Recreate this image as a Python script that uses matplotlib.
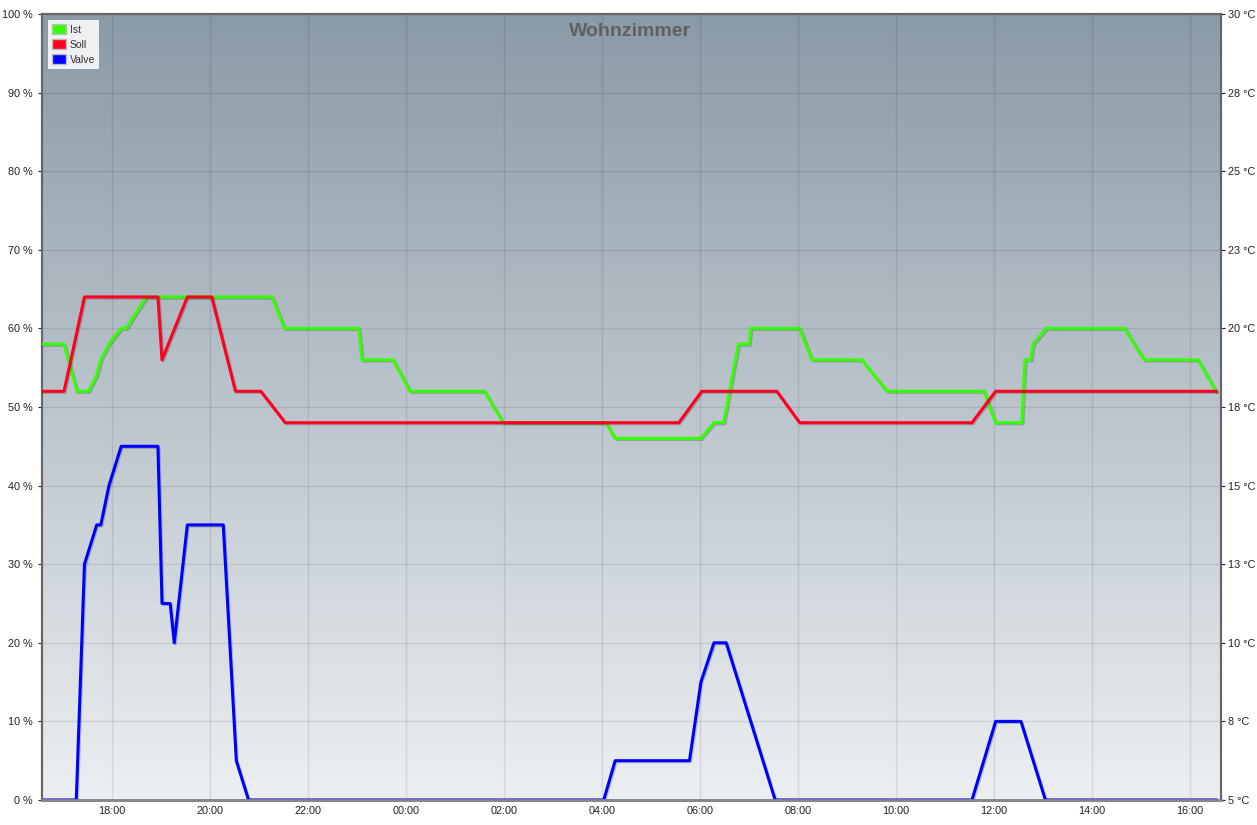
import numpy as np
import pandas as pd
import matplotlib
matplotlib.use('Agg')
import matplotlib.pyplot as plt
import matplotlib.dates as mdates
import matplotlib.patheffects as pe
from matplotlib.patches import Patch
from matplotlib.colors import LinearSegmentedColormap

plt.rcParams['font.family'] = ['Liberation Sans', 'DejaVu Sans']

day1 = '2024-01-01 '
day2 = '2024-01-02 '

# Ist (room temperature, °C)
ist_times = [day1 + t for t in ['16:34', '17:01', '17:17', '17:31', '17:41', '17:46', '17:56',
                                 '18:11', '18:17', '18:42', '21:16', '21:31', '23:02', '23:06',
                                 '23:44']] + \
            [day2 + t for t in ['00:05', '01:36', '01:59', '04:05', '04:16', '06:01', '06:17',
                                 '06:29', '06:47', '07:00', '07:02', '08:02', '08:17', '09:18',
                                 '09:49', '11:48', '12:02', '12:34', '12:38', '12:45', '12:48',
                                 '13:04', '14:40', '15:04', '16:10', '16:32']]
ist_vals = [19.5, 19.5, 18, 18, 18.5, 19, 19.5,
            20, 20, 21, 21, 20, 20, 19,
            19,
            18, 18, 17, 17, 16.5, 16.5, 17,
            17, 19.5, 19.5, 20, 20, 19, 19,
            18, 18, 17, 17, 19, 19, 19.5,
            20, 20, 19, 19, 18]

# Soll (set point, °C)
soll_times = [day1 + t for t in ['16:34', '17:01', '17:26', '18:56', '19:01', '19:32', '20:02',
                                  '20:31', '21:02', '21:32']] + \
             [day2 + t for t in ['05:34', '06:02', '07:34', '08:02', '11:33', '12:02', '16:32']]
soll_vals = [18, 18, 21, 21, 19, 21, 21,
             18, 18, 17,
             17, 18, 18, 17, 17, 18, 18]

# Valve (%)
valve_times = [day1 + t for t in ['16:34', '17:16', '17:26', '17:41', '17:46', '17:56', '18:11',
                                   '18:56', '19:01', '19:11', '19:16', '19:32', '20:16', '20:32',
                                   '20:47']] + \
              [day2 + t for t in ['04:02', '04:16', '05:47', '06:01', '06:17', '06:32', '07:32',
                                   '11:33', '12:02', '12:33', '13:03', '16:32']]
valve_vals = [0, 0, 30, 35, 35, 40, 45,
              45, 25, 25, 20, 35, 35, 5,
              0,
              0, 5, 5, 15, 20, 20, 0,
              0, 10, 10, 0, 0]

pct_ticks = list(range(0, 101, 10))
temp_labels = ['5 °C', '8 °C', '10 °C', '13 °C', '15 °C', '18 °C', '20 °C',
               '23 °C', '25 °C', '28 °C', '30 °C']

ist_t = pd.to_datetime(ist_times)
soll_t = pd.to_datetime(soll_times)
valve_t = pd.to_datetime(valve_times)
x0 = pd.Timestamp(day1 + '16:34')
x1 = pd.Timestamp(day2 + '16:38')

fig = plt.figure(figsize=(12.57, 8.25), dpi=100)
ax = fig.add_axes([42 / 1257, 1 - 800 / 825, (1221 - 42) / 1257, (800 - 14) / 825])
ax2 = ax.twinx()

# background gradient
cmap = LinearSegmentedColormap.from_list('bg', ['#eceff1', '#8b9aa7'])
ax.imshow(np.linspace(0, 1, 256)[:, None], aspect='auto', cmap=cmap, origin='lower',
          extent=[mdates.date2num(x0), mdates.date2num(x1), 0, 100], zorder=0)

shadow = [pe.SimpleLineShadow(offset=(0.8, -0.8), shadow_color='k', alpha=0.2), pe.Normal()]

ax.plot(valve_t, valve_vals, color='#0000ff', lw=2.2, zorder=3, path_effects=shadow)
ax2.plot(ist_t, ist_vals, color='#33ff00', lw=2.2, zorder=3, path_effects=shadow)
ax2.plot(soll_t, soll_vals, color='#ff0020', lw=2.2, zorder=3, path_effects=shadow)

ax.set_xlim(x0, x1)
ax.set_ylim(0, 100)
ax2.set_ylim(5, 30)

ax.set_yticks(pct_ticks)
ax.set_yticklabels(['%d %%' % p for p in pct_ticks])
ax2.set_yticks(np.linspace(5, 30, 11))
ax2.set_yticklabels(temp_labels)

ax.xaxis.set_major_locator(mdates.HourLocator(byhour=range(0, 24, 2)))
ax.xaxis.set_major_formatter(mdates.DateFormatter('%H:%M'))

ax.grid(True, color='k', alpha=0.09, lw=1)
for a in (ax, ax2):
    a.tick_params(labelsize=7.8, length=3, colors='#222222', width=0.8)
    a.patch.set_visible(False)
    for s in ('left', 'top', 'right'):
        a.spines[s].set_color('#666666')
        a.spines[s].set_linewidth(1.5)
    a.spines['bottom'].set_color('#888888')
    a.spines['bottom'].set_linewidth(2)
ax.tick_params(axis='x', length=0, pad=4)
ax2.tick_params(axis='y', length=3, pad=2)

ax.text(0.499, 0.988, 'Wohnzimmer', transform=ax.transAxes, ha='center', va='top',
        fontsize=14, fontweight='bold', color='#606060', zorder=5)

handles = [Patch(facecolor='#33ff00', edgecolor='#bbbbbb', label='Ist'),
           Patch(facecolor='#ff0020', edgecolor='#bbbbbb', label='Soll'),
           Patch(facecolor='#0000ff', edgecolor='#bbbbbb', label='Valve')]
leg = ax2.legend(handles=handles, loc='upper left', bbox_to_anchor=(0.005, 0.992),
                 fontsize=7.5, frameon=True, fancybox=False, handlelength=1.3,
                 handleheight=1.0, handletextpad=0.4, labelspacing=0.45,
                 borderpad=0.4, borderaxespad=0.0)
leg.get_frame().set_facecolor('#eef0f2')
leg.get_frame().set_edgecolor('none')
leg.get_frame().set_alpha(1)
for t in leg.get_texts():
    t.set_color('#333333')

fig.savefig('out.png', dpi=100)
